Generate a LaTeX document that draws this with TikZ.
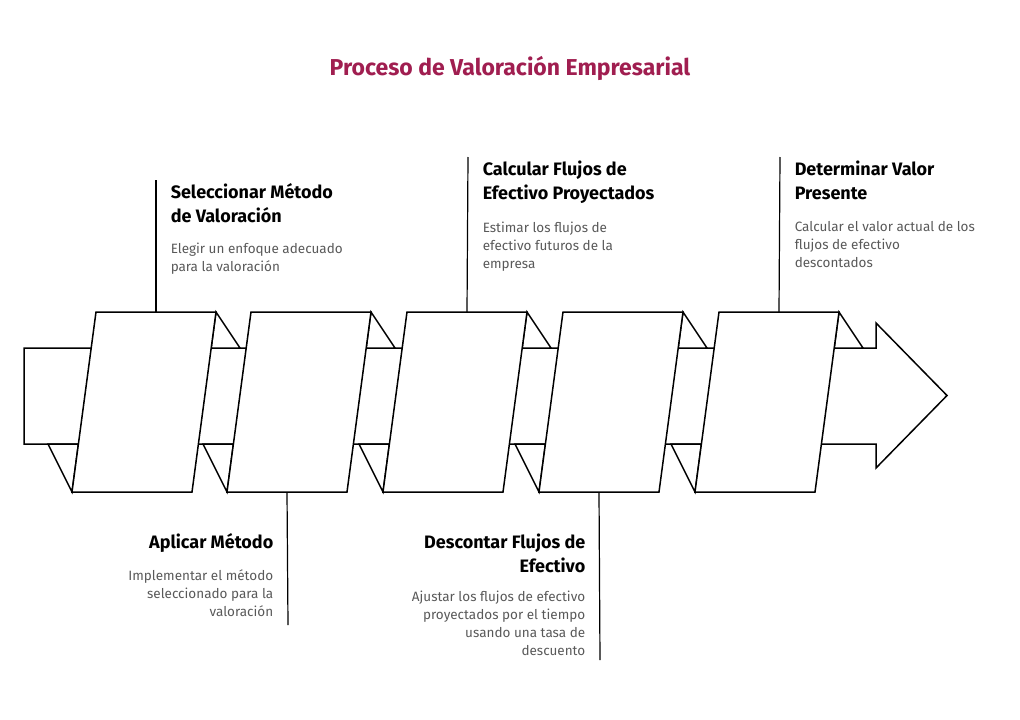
\documentclass[tikz,border=0pt]{standalone}
\usepackage{fontspec}
\setmainfont{Fira Sans}
\begin{document}
\begin{tikzpicture}[x=1pt,y=-1pt,line width=1.5pt,
  shp/.style={draw=black,fill=white,line join=miter},
  head/.style={inner sep=0,font=\fontsize{18}{24}\selectfont\bfseries},
  desc/.style={inner sep=0,text=black!65,font=\fontsize{13.5}{18}\selectfont},
  vline/.style={line width=1.2pt}]
\useasboundingbox (0,0) rectangle (1020,720);
\node[inner sep=0,text={rgb,255:red,160;green,30;blue,80},font=\fontsize{23}{28}\selectfont\bfseries] (title) at (510,68) {Proceso de Valoración Empresarial};
% band + arrow
\draw[shp] (24,348) -- (876,348) -- (876,323) -- (947,395.5) -- (876,468) -- (876,444) -- (24,444) -- cycle;
\foreach \i/\x in {1/96,2/251,3/407,4/563,5/719}{
  \draw[shp] (\x+120,312) -- (\x+144,348) -- (\x+115.2,348) -- cycle;
  \draw[shp] (\x-48,444) -- (\x-17.6,444) -- (\x-24,492) -- cycle;
  \draw[shp] (\x,312) -- (\x+120,312) -- (\x+96,492) -- (\x-24,492) -- cycle;
  \coordinate (t\i) at (\x+60,312);
  \coordinate (b\i) at (\x+36,492);
}
\coordinate (e1) at (156,180); \coordinate (e3) at (468,157); \coordinate (e5) at (780,157);
\coordinate (e2) at (288,625); \coordinate (e4) at (600,660);
\draw[vline] (t1) -- (e1); \draw[vline] (t3) -- (e3); \draw[vline] (t5) -- (e5);
\draw[vline] (b2) -- (e2); \draw[vline] (b4) -- (e4);
% texts
\node[head,anchor=north west,align=left] (h1) at (170,183) {Seleccionar Método\\de Valoración};
\node[desc,anchor=north west,align=left] (d1) at (170,242) {Elegir un enfoque adecuado\\para la valoración};
\node[head,anchor=north west,align=left] (h3) at (482,160) {Calcular Flujos de\\Efectivo Proyectados};
\node[desc,anchor=north west,align=left] (d3) at (482,221) {Estimar los flujos de\\efectivo futuros de la\\empresa};
\node[head,anchor=north west,align=left] (h5) at (794,160) {Determinar Valor\\Presente};
\node[desc,anchor=north west,align=left] (d5) at (794,221) {Calcular el valor actual de los\\flujos de efectivo\\descontados};
\node[head,anchor=north east,align=right] (h2) at (274,533) {Aplicar Método};
\node[desc,anchor=north east,align=right] (d2) at (274,569) {Implementar el método\\seleccionado para la\\valoración};
\node[head,anchor=north east,align=right] (h4) at (586,533) {Descontar Flujos de\\Efectivo};
\node[desc,anchor=north east,align=right] (d4) at (586,590) {Ajustar los flujos de efectivo\\proyectados por el tiempo\\usando una tasa de\\descuento};
\end{tikzpicture}
\end{document}
